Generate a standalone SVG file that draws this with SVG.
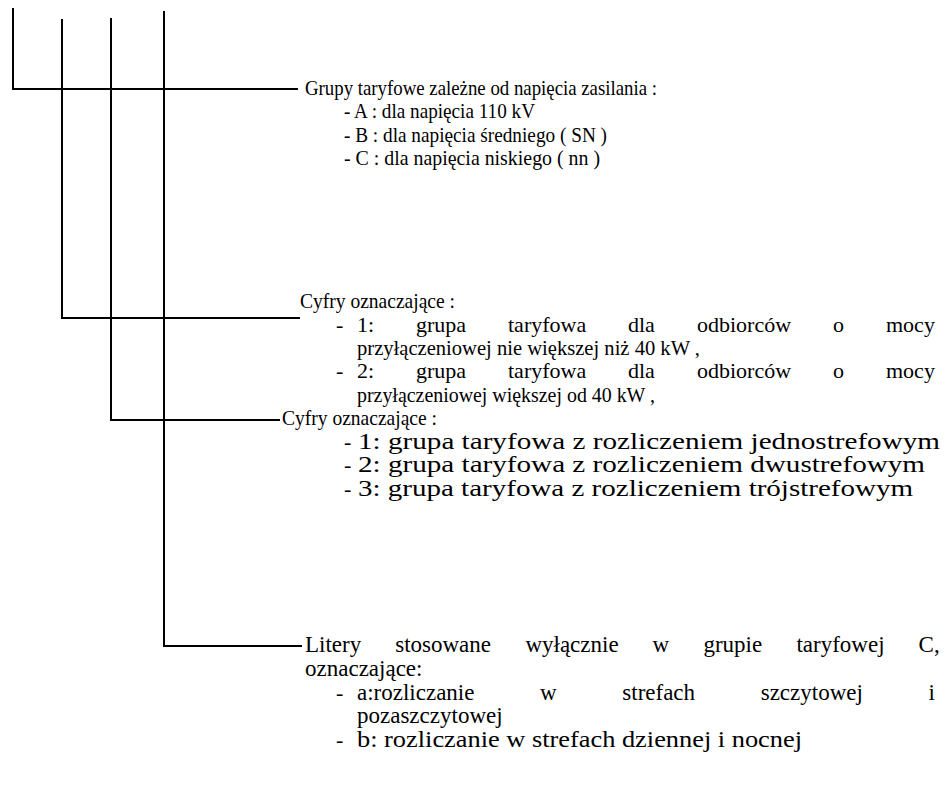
<svg xmlns="http://www.w3.org/2000/svg" width="945" height="791" viewBox="0 0 945 791">
<style>
  text { font-family: "Liberation Serif", "Times New Roman", serif; font-size: 22px; fill: #000; }
  .big { font-size: 23px; }
  .ln { stroke: #000; stroke-width: 2; fill: none; }
</style>
<rect width="945" height="791" fill="#fff"/>
<g id="connectors">
  <path class="ln" d="M13,8 V89 H298"/>
  <path class="ln" d="M62,19 V318 H300"/>
  <path class="ln" d="M111,18 V420 H280"/>
  <path class="ln" d="M164,11 V646 H302"/>
</g>
<g id="node-grupy">
  <text x="305" y="95" textLength="352" lengthAdjust="spacingAndGlyphs">Grupy taryfowe zależne od napięcia zasilania :</text>
  <text x="344" y="118" textLength="191" lengthAdjust="spacingAndGlyphs">- A : dla napięcia 110 kV</text>
  <text x="344" y="142" textLength="263" lengthAdjust="spacingAndGlyphs">- B : dla napięcia średniego ( SN )</text>
  <text x="344" y="165" textLength="256" lengthAdjust="spacingAndGlyphs">- C : dla napięcia niskiego ( nn )</text>
</g>
<g id="node-cyfry1">
  <text x="300" y="308" textLength="155" lengthAdjust="spacingAndGlyphs">Cyfry oznaczające :</text>
  <text x="336" y="332">-</text>
  <text y="332"><tspan x="357">1:</tspan><tspan x="416">grupa</tspan><tspan x="508">taryfowa</tspan><tspan x="628">dla</tspan><tspan x="697">odbiorców</tspan><tspan x="833">o</tspan><tspan x="886">mocy</tspan></text>
  <text x="357" y="355" textLength="343" lengthAdjust="spacingAndGlyphs">przyłączeniowej nie większej niż 40 kW ,</text>
  <text x="336" y="378">-</text>
  <text y="378"><tspan x="357">2:</tspan><tspan x="416">grupa</tspan><tspan x="508">taryfowa</tspan><tspan x="628">dla</tspan><tspan x="697">odbiorców</tspan><tspan x="833">o</tspan><tspan x="886">mocy</tspan></text>
  <text x="357" y="402" textLength="298" lengthAdjust="spacingAndGlyphs">przyłączeniowej większej od 40 kW ,</text>
</g>
<g id="node-cyfry2">
  <text x="282" y="425" textLength="155" lengthAdjust="spacingAndGlyphs">Cyfry oznaczające :</text>
  <text x="344" y="449">-</text>
  <text class="big" x="358" y="449" textLength="582" lengthAdjust="spacingAndGlyphs">1: grupa taryfowa z rozliczeniem jednostrefowym</text>
  <text x="344" y="472">-</text>
  <text class="big" x="358" y="472" textLength="567" lengthAdjust="spacingAndGlyphs">2: grupa taryfowa z rozliczeniem dwustrefowym</text>
  <text x="344" y="496">-</text>
  <text class="big" x="358" y="496" textLength="555" lengthAdjust="spacingAndGlyphs">3: grupa taryfowa z rozliczeniem trójstrefowym</text>
</g>
<g id="node-litery">
  <text class="big" y="652"><tspan x="305">Litery</tspan><tspan x="395.2">stosowane</tspan><tspan x="525.4">wyłącznie</tspan><tspan x="652.6">w</tspan><tspan x="703.4">grupie</tspan><tspan x="796.4">taryfowej</tspan><tspan x="918.6">C,</tspan></text>
  <text class="big" x="305" y="676">oznaczające:</text>
  <text x="336" y="700">-</text>
  <text class="big" y="700"><tspan x="357">a:rozliczanie</tspan><tspan x="540.1">w</tspan><tspan x="622.3">strefach</tspan><tspan x="760.7">szczytowej</tspan><tspan x="928.5">i</tspan></text>
  <text class="big" x="357" y="723">pozaszczytowej</text>
  <text x="336" y="747">-</text>
  <text class="big" x="357" y="747" textLength="445" lengthAdjust="spacingAndGlyphs">b: rozliczanie w strefach dziennej i nocnej</text>
</g>
</svg>
